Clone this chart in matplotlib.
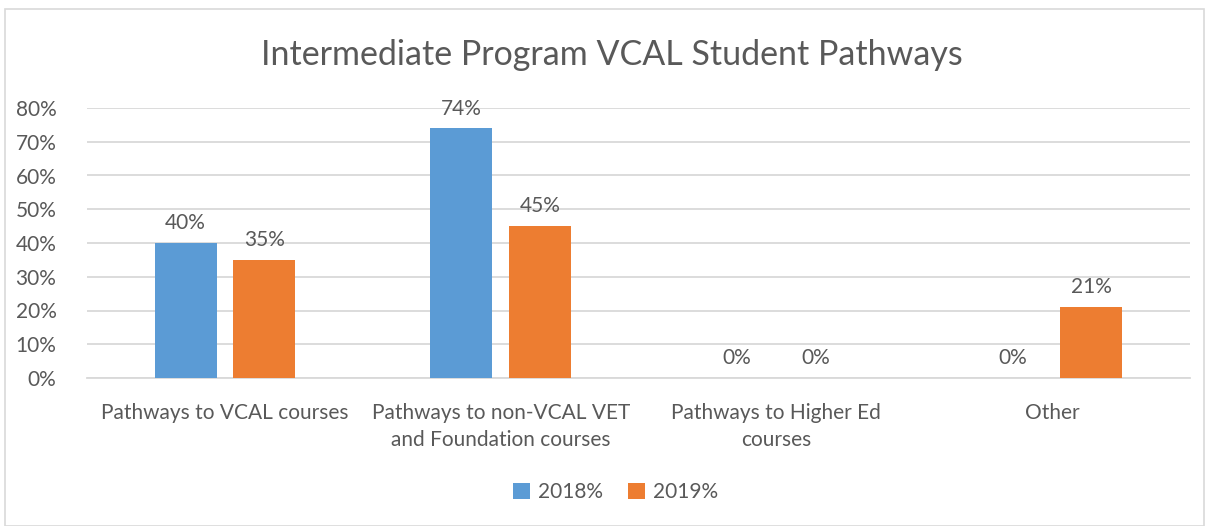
import numpy as np
import matplotlib.pyplot as plt
from matplotlib.patches import Rectangle
from matplotlib.ticker import PercentFormatter

# data
categories = ['Pathways to VCAL courses',
              'Pathways to non-VCAL VET\nand Foundation courses',
              'Pathways to Higher Ed\ncourses',
              'Other']
series_names = ['2018%', '2019%']
vals_2018 = [0.40, 0.74, 0.0, 0.0]
vals_2019 = [0.35, 0.45, 0.0, 0.21]

BLUE, ORANGE = '#5B9BD5', '#ED7D31'
TXT, GRID = '#595959', '#D9D9D9'
FS = 15

plt.rcParams['font.family'] = ['Lato', 'DejaVu Sans']

fig = plt.figure(figsize=(12.07, 5.26), dpi=100)
# light chart-area border like the Excel export
fig.patches.append(Rectangle((5 / 1207, 0), 1199 / 1207, 517 / 526,
                             transform=fig.transFigure, fill=False,
                             edgecolor='#D9D9D9', lw=1.2))

ax = fig.add_axes([87 / 1207, 1 - 378 / 526, 1103 / 1207, 270 / 526])
x = np.arange(len(categories))
w, off = 0.225, 0.1425
for vals, color, name, dx in [(vals_2018, BLUE, series_names[0], -off),
                              (vals_2019, ORANGE, series_names[1], off)]:
    bars = ax.bar(x + dx, vals, w, color=color, label=name, zorder=3)
    ax.bar_label(bars, labels=[f'{v:.0%}' for v in vals], padding=7,
                 fontsize=FS, color=TXT)

ax.set_xlim(-0.5, len(categories) - 0.5)
ax.set_ylim(0, 0.8)
ax.set_yticks(np.arange(0, 0.81, 0.1))
ax.yaxis.set_major_formatter(PercentFormatter(1.0, decimals=0))
ax.grid(axis='y', color=GRID, lw=1.3, zorder=0)
ax.set_xticks(x)
ax.set_xticklabels(categories, fontsize=FS, color=TXT, linespacing=1.45)
ax.tick_params(axis='x', length=0, pad=18)
ax.tick_params(axis='y', length=0, pad=22, labelsize=FS, labelcolor=TXT)
for s in ['top', 'right', 'left']:
    ax.spines[s].set_visible(False)
ax.spines['bottom'].set_color(GRID)
ax.spines['bottom'].set_linewidth(1.3)

fig.text(0.507, 1 - 55 / 526, 'Intermediate Program VCAL Student Pathways',
         ha='center', va='center', fontsize=24.5, color=TXT)

fig.legend(loc='center', bbox_to_anchor=(0.51, 1 - 492 / 526), ncol=2,
           frameon=False, fontsize=FS, labelcolor=TXT, handlelength=0.8,
           handleheight=0.8, handletextpad=0.4, columnspacing=1.2)

fig.savefig('out.png', dpi=100, facecolor='white')
